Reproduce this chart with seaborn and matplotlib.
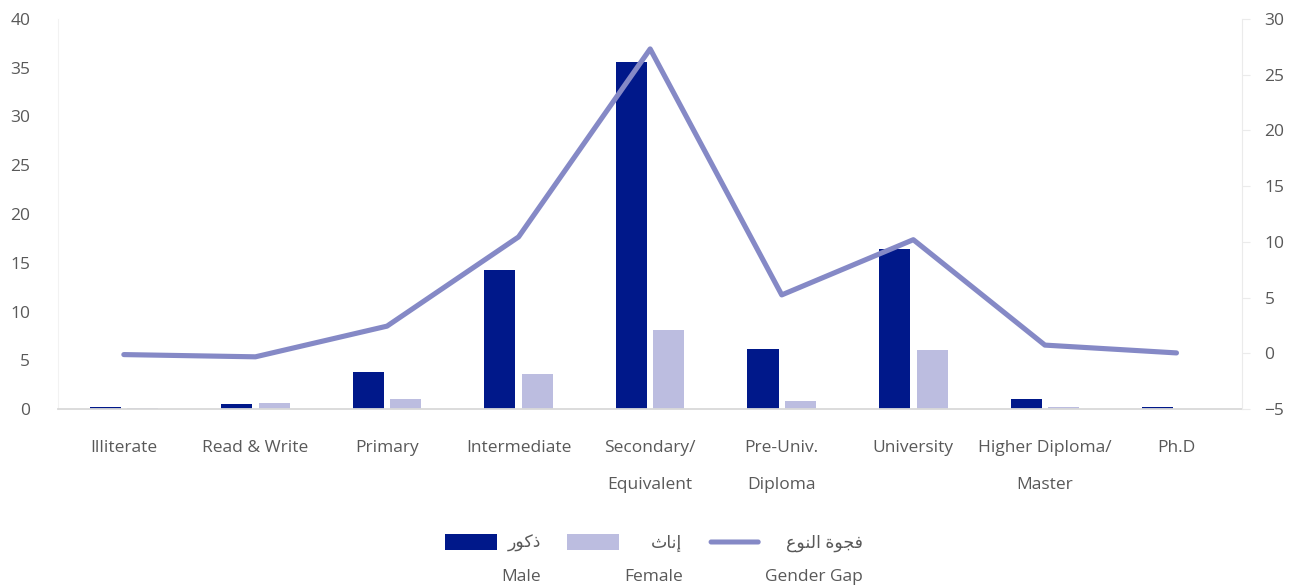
import numpy as np
import pandas as pd
import matplotlib
matplotlib.use("Agg")
import matplotlib.pyplot as plt
import seaborn as sb
from matplotlib.patches import Patch, Rectangle, FancyBboxPatch
from matplotlib.legend_handler import HandlerPatch

# data
categories = ["Illiterate", "Read & Write", "Primary", "Intermediate",
              "Secondary/\nEquivalent", "Pre-Univ.\nDiploma", "University",
              "Higher Diploma/\nMaster", "Ph.D"]
male = [0.2, 0.55, 3.8, 14.25, 35.6, 6.15, 16.4, 1.0, 0.2]
female = [0.1, 0.65, 1.1, 3.6, 8.1, 0.8, 6.05, 0.2, 0.05]
gap = [-0.1, -0.3, 2.45, 10.45, 27.3, 5.25, 10.2, 0.75, 0.05]

# arabic legend labels (presentation forms, visual order) + english
lab_ar = ["\uFEAD\uFEEE\uFEDB\uFEAB",
          "\uFE99\uFE8E\uFEE7\uFE87",
          "\uFEC9\uFEEE\uFEE8\uFEDF\uFE8D \uFE93\uFEEE\uFEA0\uFED3"]
lab_en = ["Male", "Female", "Gender Gap"]

c_male = "#00188A"
c_female = "#BCBDE0"
c_gap = "#8589C6"
c_text = "#595959"

sb.set_style("white")
plt.rcParams["font.family"] = ["Open Sans", "DejaVu Sans"]
plt.rcParams["font.size"] = 12.5

df = pd.DataFrame({
    "cat": categories * 2,
    "val": male + female,
    "sex": ["Male"] * len(categories) + ["Female"] * len(categories),
})

fig, ax = plt.subplots(figsize=(12.9, 5.88), dpi=100)
fig.subplots_adjust(left=0.045, right=0.963, top=0.968, bottom=0.304)

sb.barplot(data=df, x="cat", y="val", hue="sex", order=categories,
           palette={"Male": c_male, "Female": c_female}, saturation=1,
           width=0.57, gap=0.17, linewidth=0, ax=ax, legend=False)
ax.set_ylim(0, 40)
ax.set_yticks(range(0, 41, 5))
ax.set_xlabel("")
ax.set_ylabel("")

ax2 = ax.twinx()
sb.lineplot(x=np.arange(len(categories)), y=gap, color=c_gap, linewidth=3.7,
            solid_capstyle="round", ax=ax2)
ax2.set_ylim(-5, 30)
ax2.set_yticks(range(-5, 31, 5))
ax.set_xlim(-0.5, len(categories) - 0.5)
ax.set_xticks(range(len(categories)))
ax.set_xticklabels(categories, linespacing=2.75)

for a in (ax, ax2):
    for s in a.spines.values():
        s.set_visible(False)
ax.spines["bottom"].set_visible(True)
ax.spines["bottom"].set_color("#D9D9D9")
ax.spines["bottom"].set_linewidth(1.3)
ax.spines["left"].set_visible(True)
ax.spines["left"].set_color("#F2F2F2")
ax2.spines["right"].set_visible(True)
ax2.spines["right"].set_color("#EBEBEB")

ax.tick_params(axis="y", length=0, pad=20, labelcolor=c_text, labelsize=12.5)
ax.tick_params(axis="x", length=0, pad=22, labelcolor=c_text, labelsize=12.5)
ax2.tick_params(axis="y", length=6, color="#EBEBEB", pad=10,
                labelcolor=c_text, labelsize=12.5)

# legend: arabic on top line next to the handle, english below, right aligned
lift = 13.0  # points, moves the handle up to the arabic line


def box_handle(legend, orig_handle, xdescent, ydescent, width, height, fontsize):
    return Rectangle((-xdescent, -ydescent + lift), width, height)


def line_handle(legend, orig_handle, xdescent, ydescent, width, height, fontsize):
    r = 1.8
    return FancyBboxPatch((-xdescent + r, -ydescent + lift + height / 2),
                          width - 2 * r, 0.01, boxstyle="round,pad=%g" % r)


h_male = Patch(facecolor=c_male, linewidth=0)
h_female = Patch(facecolor=c_female, linewidth=0)
h_gap = Patch(facecolor=c_gap, linewidth=0)
labels = [a + "\n" + e for a, e in zip(lab_ar, lab_en)]
leg = fig.legend([h_male, h_female, h_gap], labels, loc="center",
                 bbox_to_anchor=(0.507, 1 - 560 / 588), ncol=3, frameon=False,
                 handlelength=3.0, handleheight=1.0, handletextpad=0.25,
                 columnspacing=1.5, fontsize=12.5,
                 handler_map={h_male: HandlerPatch(patch_func=box_handle),
                              h_female: HandlerPatch(patch_func=box_handle),
                              h_gap: HandlerPatch(patch_func=line_handle)})
for t in leg.get_texts():
    t.set_color(c_text)
    t.set_multialignment("right")
    t.set_linespacing(2.45)

fig.savefig("out.png", dpi=100)
